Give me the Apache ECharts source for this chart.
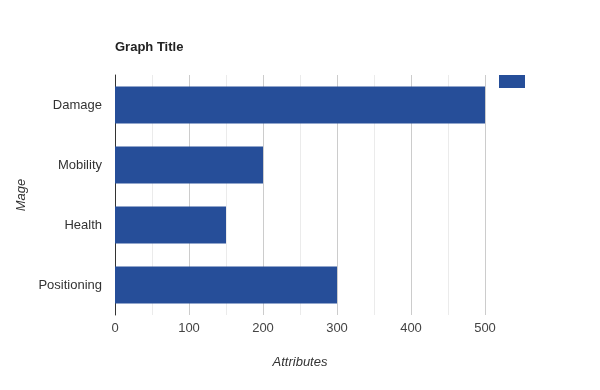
<!DOCTYPE html>
<html><head><meta charset="utf-8">
<script src="https://cdn.jsdelivr.net/npm/echarts@6/dist/echarts.min.js"></script>
<style>html,body{margin:0;padding:0;background:#fff}#c{width:600px;height:390px}</style>
</head><body><div id="c"></div>
<script>
const categories = ['Damage', 'Mobility', 'Health', 'Positioning'];
const values = [500, 200, 150, 300];
const seriesName = 'Mage';
const titleText = 'Graph Title';
const xName = 'Attributes';
const yName = 'Mage';

const FONT = '"Liberation Sans", Arial, sans-serif';
const chart = echarts.init(document.getElementById('c'), null, {renderer: 'canvas'});
chart.setOption({
  animation: false,
  textStyle: {fontFamily: FONT},
  title: {text: titleText, left: 110, top: 36,
    textStyle: {fontSize: 13, fontWeight: 'bold', color: '#222', fontFamily: FONT}},
  legend: {left: 499, top: 75, itemWidth: 26, itemHeight: 13, itemGap: 0, padding: 0,
    icon: 'rect', data: [seriesName], formatter: () => '', textStyle: {fontSize: 1}},
  grid: {left: 115, right: 115, top: 75, bottom: 75, containLabel: false},
  xAxis: {type: 'value', min: 0, max: 500, interval: 100,
    name: xName, nameLocation: 'middle', nameGap: 41,
    nameTextStyle: {fontStyle: 'italic', fontSize: 13, color: '#333', fontFamily: FONT},
    axisLine: {show: false}, axisTick: {show: false},
    axisLabel: {fontSize: 13, color: '#444', margin: 7, fontFamily: FONT},
    splitLine: {show: true, lineStyle: {color: '#cccccc', width: 1}},
    minorTick: {show: false, splitNumber: 2},
    minorSplitLine: {show: true, lineStyle: {color: '#ebebeb', width: 1}}},
  yAxis: {type: 'category', data: categories, inverse: true,
    name: yName, nameLocation: 'middle', nameGap: 87, nameRotate: 90,
    nameTextStyle: {fontStyle: 'italic', fontSize: 13, color: '#333', fontFamily: FONT},
    axisLine: {show: true, lineStyle: {color: '#333', width: 1}},
    axisTick: {show: false},
    axisLabel: {fontSize: 13, color: '#333', margin: 13, fontFamily: FONT, padding: [3, 0, 0, 0]},
    splitLine: {show: false}},
  series: [{name: seriesName, type: 'bar', data: values, barWidth: '62%',
    itemStyle: {color: '#264e99'}}]
});
</script></body></html>
